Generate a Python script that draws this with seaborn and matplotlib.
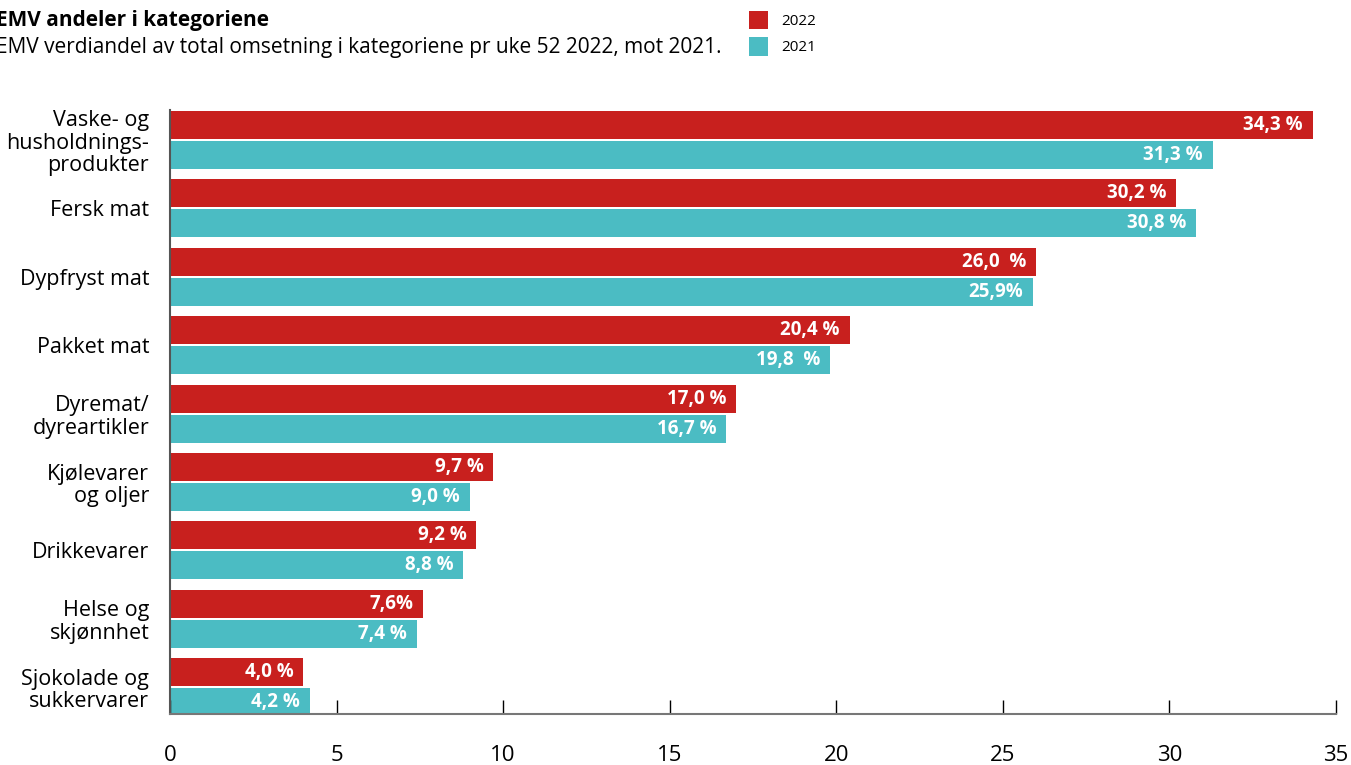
import seaborn as sns
import matplotlib.pyplot as plt
import pandas as pd

categories = ['Vaske- og\nhusholdnings-\nprodukter', 'Fersk mat', 'Dypfryst mat', 'Pakket mat',
              'Dyremat/\ndyreartikler', 'Kjølevarer\nog oljer', 'Drikkevarer', 'Helse og\nskjønnhet',
              'Sjokolade og\nsukkervarer']
share_2022 = [34.3, 30.2, 26.0, 20.4, 17.0, 9.7, 9.2, 7.6, 4.0]
share_2021 = [31.3, 30.8, 25.9, 19.8, 16.7, 9.0, 8.8, 7.4, 4.2]
labels_2022 = ['34,3 %', '30,2 %', '26,0  %', '20,4 %', '17,0 %', '9,7 %', '9,2 %', '7,6%', '4,0 %']
labels_2021 = ['31,3 %', '30,8 %', '25,9%', '19,8  %', '16,7 %', '9,0 %', '8,8 %', '7,4 %', '4,2 %']
xticks = [0, 5, 10, 15, 20, 25, 30, 35]

df = pd.DataFrame({
    'Kategori': categories * 2,
    'Andel': share_2022 + share_2021,
    'År': ['2022'] * len(categories) + ['2021'] * len(categories),
})

plt.rcParams['font.family'] = ['Open Sans', 'DejaVu Sans']

fig = plt.figure(figsize=(13.51, 7.65), dpi=100)
ax = fig.add_axes([170 / 1351, 1 - 714 / 765, (1336 - 170) / 1351, 604 / 765])

sns.barplot(data=df, y='Kategori', x='Andel', hue='År', hue_order=['2022', '2021'],
            palette=['#C8201E', '#4BBCC3'], orient='h', width=0.877, gap=0.067,
            saturation=1, ax=ax)

for container, labels in zip(ax.containers, [labels_2022, labels_2021]):
    for p, lab in zip(container, labels):
        ax.annotate(lab, (p.get_x() + p.get_width(), p.get_y() + p.get_height() / 2),
                    xytext=(-7, 0), textcoords='offset points', ha='right', va='center',
                    color='white', fontweight='bold', fontsize=13.5)

ax.set_xlim(0, 35)
ax.set_ylim(8.39, -0.4385)
ax.set_xticks(xticks)
ax.set_xticklabels([str(t) for t in xticks], fontsize=16)
ax.set_xlabel('')
ax.set_ylabel('')
ax.tick_params(axis='x', direction='in', length=10, width=1, color='black', pad=22)
ax.tick_params(axis='y', length=0, pad=15, labelsize=15.5)
for lab in ax.get_yticklabels():
    lab.set_multialignment('right')
    lab.set_linespacing(1.1)
for s in ['top', 'right']:
    ax.spines[s].set_visible(False)
ax.spines['bottom'].set_color('#777777')
ax.spines['bottom'].set_linewidth(1.5)
ax.spines['left'].set_color('#555555')
ax.spines['left'].set_linewidth(1.5)

fig.text(-0.003, 0.973, 'EMV andeler i kategoriene', fontsize=15, fontweight='bold', va='center')
fig.text(-0.003, 0.938, 'EMV verdiandel av total omsetning i kategoriene pr uke 52 2022, mot 2021.',
         fontsize=15, va='center')

sns.move_legend(ax, loc='upper left', bbox_to_anchor=(741 / 1351, 1 - 3 / 765),
                bbox_transform=fig.transFigure, frameon=False, title=None, fontsize=11,
                borderpad=0, handlelength=1.24, handleheight=1.5, labelspacing=0.5,
                handletextpad=0.9)

fig.savefig('out.png', dpi=100)
